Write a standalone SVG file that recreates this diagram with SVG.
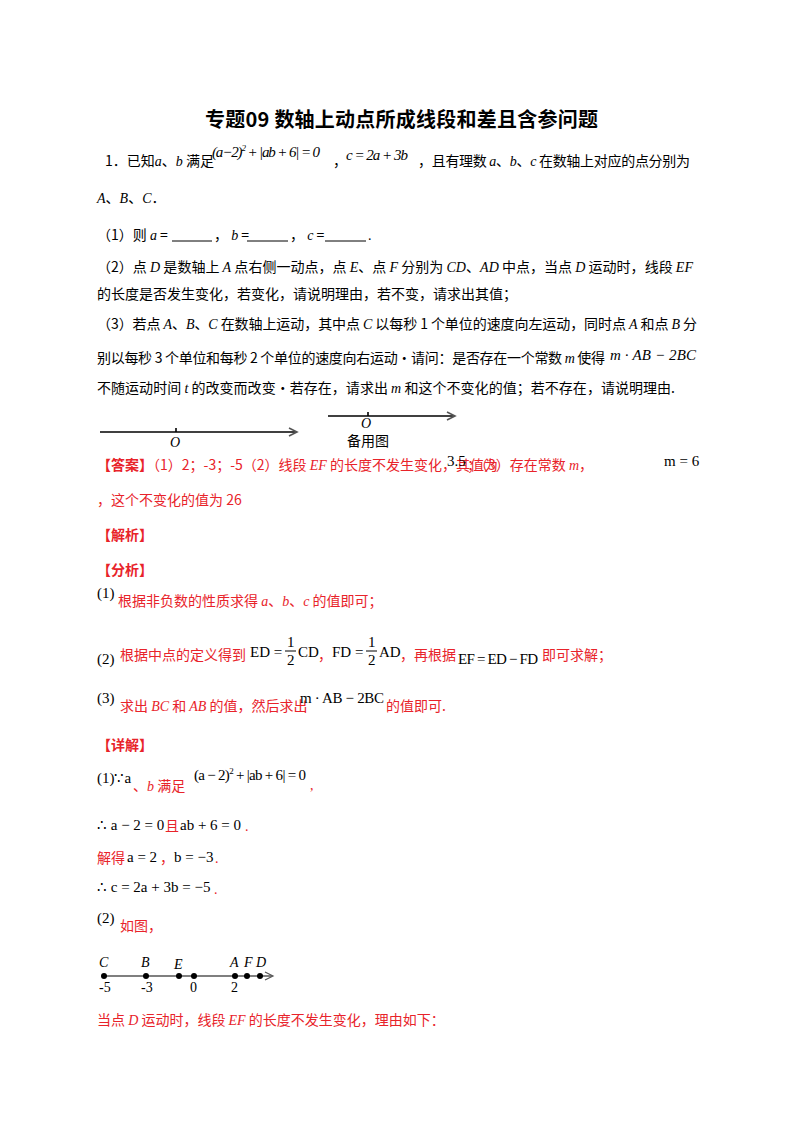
<svg xmlns="http://www.w3.org/2000/svg" width="800" height="1132" viewBox="0 0 800 1132">
<style>
text{font-family:"Liberation Serif","Noto Sans CJK SC",serif;font-size:14px;fill:#000}
.c{font-family:"Noto Sans CJK SC","Noto Sans",sans-serif}
.r{fill:#e8232a}
.i{font-style:italic}
.m{font-family:"Liberation Serif",serif;font-size:15px}
.b{font-weight:bold}
line{stroke:#000}
</style>
<rect width="800" height="1132" fill="#fff"/>
<text x="205" y="127" textLength="393" class="c b" style="font-size:20px">专题09  数轴上动点所成线段和差且含参问题</text>
<text x="105" y="166" class="c">1．已知<tspan class="i" font-family="Liberation Serif">a</tspan>、<tspan class="i" font-family="Liberation Serif">b</tspan> 满足</text>
<text x="212" y="157" class="m i" textLength="108">(a−2)<tspan font-size="9" dy="-6">2</tspan><tspan dy="6"> + |ab + 6| = 0</tspan></text>
<text x="333" y="166" class="c">，</text>
<text x="346" y="160" class="m i" textLength="62">c = 2a + 3b</text>
<text x="418" y="166" class="c" textLength="272">，且有理数 <tspan class="i" font-family="Liberation Serif">a</tspan>、<tspan class="i" font-family="Liberation Serif">b</tspan>、<tspan class="i" font-family="Liberation Serif">c</tspan> 在数轴上对应的点分别为</text>
<text x="97" y="203" class="c"><tspan class="i" font-family="Liberation Serif">A</tspan>、<tspan class="i" font-family="Liberation Serif">B</tspan>、<tspan class="i" font-family="Liberation Serif">C</tspan>．</text>
<text x="97" y="240" class="c">（1）则 <tspan class="i" font-family="Liberation Serif">a</tspan> =</text>
<line x1="172" y1="241" x2="212" y2="241"/>
<text x="214" y="240" class="c">， <tspan class="i" font-family="Liberation Serif">b</tspan> =</text>
<line x1="247" y1="241" x2="288" y2="241"/>
<text x="290" y="240" class="c">， <tspan class="i" font-family="Liberation Serif">c</tspan> =</text>
<line x1="325" y1="241" x2="366" y2="241"/>
<text x="368" y="240">.</text>
<text x="97" y="272" class="c" textLength="596">（2）点 <tspan class="i" font-family="Liberation Serif">D</tspan> 是数轴上 <tspan class="i" font-family="Liberation Serif">A</tspan> 点右侧一动点，点 <tspan class="i" font-family="Liberation Serif">E</tspan>、点 <tspan class="i" font-family="Liberation Serif">F</tspan> 分别为 <tspan class="i" font-family="Liberation Serif">CD</tspan>、<tspan class="i" font-family="Liberation Serif">AD</tspan> 中点，当点 <tspan class="i" font-family="Liberation Serif">D</tspan> 运动时，线段 <tspan class="i" font-family="Liberation Serif">EF</tspan></text>
<text x="97" y="299" class="c">的长度是否发生变化，若变化，请说明理由，若不变，请求出其值；</text>
<text x="97" y="329" class="c" textLength="600">（3）若点 <tspan class="i" font-family="Liberation Serif">A</tspan>、<tspan class="i" font-family="Liberation Serif">B</tspan>、<tspan class="i" font-family="Liberation Serif">C</tspan> 在数轴上运动，其中点 <tspan class="i" font-family="Liberation Serif">C</tspan> 以每秒 1 个单位的速度向左运动，同时点 <tspan class="i" font-family="Liberation Serif">A</tspan> 和点 <tspan class="i" font-family="Liberation Serif">B</tspan> 分</text>
<text x="97" y="363" class="c" textLength="508">别以每秒 3 个单位和每秒 2 个单位的速度向右运动·请问：是否存在一个常数 <tspan class="i" font-family="Liberation Serif">m</tspan> 使得</text>
<text x="610" y="360" class="m i" textLength="86">m · AB − 2BC</text>
<text x="97" y="393" class="c" textLength="578">不随运动时间 <tspan class="i" font-family="Liberation Serif">t</tspan> 的改变而改变·若存在，请求出 <tspan class="i" font-family="Liberation Serif">m</tspan> 和这个不变化的值；若不存在，请说明理由.</text>
<g stroke="#555" stroke-width="1.6" fill="none">
<line x1="100" y1="432" x2="296" y2="432"/><polyline points="289,428 297,432 289,436"/>
<line x1="176" y1="428" x2="176" y2="432"/>
<line x1="328" y1="416" x2="454" y2="416"/><polyline points="447,412 455,416 447,420"/>
<line x1="368" y1="412" x2="368" y2="416"/>
</g>
<text x="175" y="447" text-anchor="middle" class="i" font-family="Liberation Sans,sans-serif">O</text>
<text x="366" y="428" text-anchor="middle" class="i" font-family="Liberation Sans,sans-serif" font-size="12">O</text>
<text x="368" y="446" text-anchor="middle" class="c" font-size="12">备用图</text>
<text x="97" y="470" class="c r" font-size="13"><tspan class="b">【答案】</tspan>（1）2；-3；-5（2）线段 <tspan class="i" font-family="Liberation Serif">EF</tspan> 的长度不发生变化，其值为</text>
<text x="447" y="466" class="m">3.5</text>
<text x="467" y="470" class="c r" font-size="13">；（3）存在常数 <tspan class="i" font-family="Liberation Serif">m</tspan>，</text>
<text x="664" y="466" class="m">m = 6</text>
<text x="97" y="505" class="c r">，这个不变化的值为 26</text>
<text x="97" y="540" class="c r b">【解析】</text>
<text x="97" y="575" class="c r b">【分析】</text>
<text x="97" y="598" class="m">(1)</text>
<text x="118" y="606" class="c r">根据非负数的性质求得 <tspan class="i" font-family="Liberation Serif">a</tspan>、<tspan class="i" font-family="Liberation Serif">b</tspan>、<tspan class="i" font-family="Liberation Serif">c</tspan> 的值即可；</text>
<text x="97" y="664" class="m" font-size="17">(2)</text>
<text x="120" y="660" class="c r">根据中点的定义得到</text>
<text x="250" y="657" class="m">ED =</text>
<text x="287" y="647" class="m">1</text><line x1="285" y1="651" x2="296" y2="651"/><text x="287" y="665" class="m">2</text>
<text x="298" y="657" class="m">CD</text>
<text x="318" y="660" class="c r">，</text>
<text x="332" y="657" class="m">FD =</text>
<text x="368" y="647" class="m">1</text><line x1="366" y1="651" x2="377" y2="651"/><text x="368" y="665" class="m">2</text>
<text x="379" y="657" class="m">AD</text>
<text x="400" y="660" class="c r">，再根据</text>
<text x="458" y="664" class="m" textLength="80">EF = ED − FD</text>
<text x="542" y="660" class="c r">即可求解；</text>
<text x="97" y="703" class="m" font-size="17">(3)</text>
<text x="120" y="711" class="c r">求出 <tspan class="i" font-family="Liberation Serif">BC</tspan> 和 <tspan class="i" font-family="Liberation Serif">AB</tspan> 的值，然后求出</text>
<text x="300" y="703" class="m" textLength="84">m · AB − 2BC</text>
<text x="386" y="711" class="c r">的值即可.</text>
<text x="97" y="750" class="c r b">【详解】</text>
<text x="97" y="783" class="m" font-size="16">(1)∵a</text>
<text x="133" y="791" class="c r">、<tspan class="i" font-family="Liberation Serif">b</tspan> 满足</text>
<text x="194" y="780" class="m" textLength="112">(a − 2)<tspan font-size="9" dy="-6">2</tspan><tspan dy="6"> + |ab + 6| = 0</tspan></text>
<text x="310" y="790" class="r">,</text>
<text x="97" y="830" class="m">∴ a − 2 = 0</text>
<text x="165" y="831" class="c r">且</text>
<text x="180" y="830" class="m">ab + 6 = 0</text>
<text x="245" y="831" class="r">.</text>
<text x="97" y="863" class="c r">解得</text>
<text x="127" y="862" class="m">a = 2</text>
<text x="160" y="863" class="c r">，</text>
<text x="174" y="862" class="m">b = −3</text>
<text x="215" y="863" class="r">.</text>
<text x="97" y="892" class="m">∴ c = 2a + 3b = −5</text>
<text x="214" y="894" class="r">.</text>
<text x="97" y="923" class="m" font-size="17">(2)</text>
<text x="120" y="931" class="c r">如图，</text>
<line x1="102" y1="976" x2="272" y2="976" stroke="#555" stroke-width="1.2"/>
<polyline points="265,972 273,976 265,980" fill="none" stroke="#555" stroke-width="1.2"/>
<g fill="#000">
<circle cx="104" cy="976" r="3"/><circle cx="146" cy="976" r="3"/><circle cx="179" cy="976" r="3"/><circle cx="194" cy="976" r="3"/><circle cx="235" cy="976" r="3"/><circle cx="247" cy="976" r="3"/><circle cx="260" cy="976" r="3"/>
</g>
<g class="i" font-family="Liberation Serif" font-size="13">
<text x="99" y="967">C</text><text x="141" y="967">B</text><text x="174" y="969">E</text><text x="230" y="967">A</text><text x="244" y="967">F</text><text x="256" y="967">D</text>
</g>
<g font-size="13">
<text x="99" y="992">-5</text><text x="141" y="992">-3</text><text x="190" y="992">0</text><text x="231" y="992">2</text>
</g>
<text x="97" y="1025" class="c r">当点 <tspan class="i" font-family="Liberation Serif">D</tspan> 运动时，线段 <tspan class="i" font-family="Liberation Serif">EF</tspan> 的长度不发生变化，理由如下：</text>
</svg>
